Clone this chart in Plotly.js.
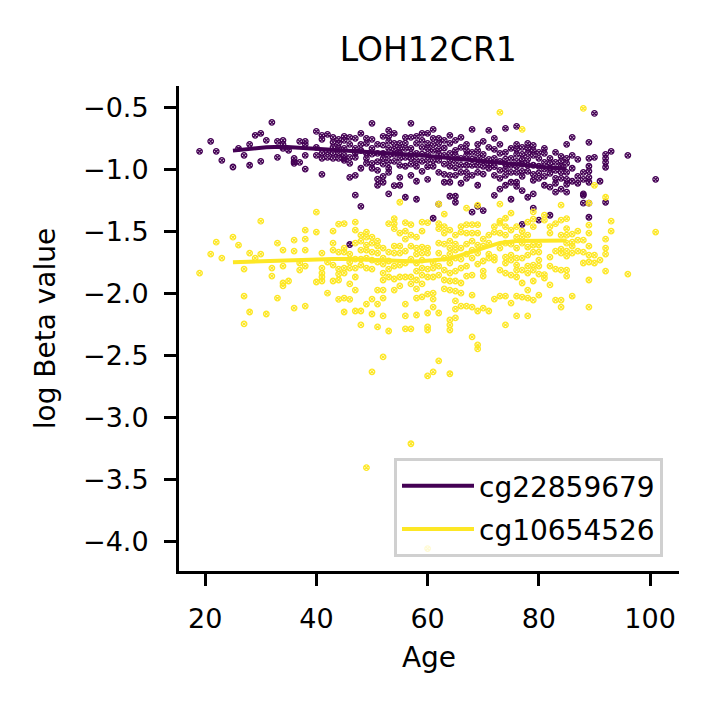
<!DOCTYPE html>
<html>
<head>
<meta charset="utf-8">
<script src="https://cdn.plot.ly/plotly-3.0.1.min.js"></script>
<style>
  html, body { margin: 0; padding: 0; background: #fff; }
  #chart { width: 708px; height: 708px; }
</style>
</head>
<body>
<div id="chart"></div>
<script>
// cg22859679 (purple): ages and the values seen at each age
var purpleAges = [19, 21, 22, 23, 25, 26, 27, 28, 29, 30, 31, 32, 33, 34, 35, 36, 37, 38, 40, 41,
    42, 43, 44, 45, 46, 47, 48, 49, 50, 51, 52, 53, 54, 55, 56, 57, 58, 59, 60, 61,
    62, 63, 64, 65, 66, 67, 68, 69, 70, 71, 72, 73, 74, 75, 76, 77, 78, 79, 80, 81,
    82, 83, 84, 85, 86, 87, 88, 89, 90, 91, 92, 93, 96, 101];
var purpleVals = [
    [-0.857], [-0.776], [-0.857], [-0.929], [-0.983], [-0.833], [-0.889], [-0.80, -0.969], [-0.728],
    [-0.712, -0.937], [-0.768], [-0.623], [-0.776, -0.905], [-0.768, -0.80, -0.833], [-0.849],
    [-0.913, -0.94, -0.953], [-0.776, -0.945], [-0.776, -0.80, -0.889, -1.0],
    [-0.696, -0.824, -0.889], [-0.728, -0.76, -0.873, -0.913, -1.042], [-0.72, -0.86, -0.905],
    [-0.744, -0.784, -0.824, -0.873, -0.913], [-0.76, -0.792, -0.833, -0.873, -0.913],
    [-0.736, -0.768, -0.833, -0.889, -0.913, -0.929], [-0.744, -0.80, -0.905, -0.953, -1.066, -1.608],
    [-0.752, -0.833, -0.87, -0.905, -1.05, -1.21], [-0.712, -0.80, -0.85, -0.993, -1.30],
    [-0.752, -0.792, -0.873, -0.913, -0.953], [-0.631, -0.76, -0.833, -0.88, -0.953, -0.993],
    [-0.80, -0.873, -0.94, -1.01, -1.08, -1.13], [-0.736, -0.806, -0.873, -0.913, -0.96, -1.058, -1.106],
    [-0.688, -0.736, -0.776, -0.833, -0.889, -0.94, -0.993, -1.026, -1.2],
    [-0.712, -0.792, -0.84, -0.881, -0.937, -1.133], [-0.792, -0.833, -0.87, -0.913, -0.97, -1.066, -1.13],
    [-0.744, -0.79, -0.833, -0.905, -0.977, -1.227], [-0.631, -0.744, -0.833, -0.88, -0.913, -0.96, -1.05],
    [-0.736, -0.792, -0.873, -0.93, -0.977, -1.098, -1.243], [-0.712, -0.768, -0.824, -0.88, -0.937, -1.018],
    [-0.712, -0.792, -0.833, -0.881, -0.929, -0.98, -1.082], [-0.68, -0.752, -0.80, -0.849, -0.929, -0.977, -1.396],
    [-0.752, -0.792, -0.841, -0.88, -0.929, -1.026, -1.283], [-0.768, -0.83, -0.889, -0.96, -1.042, -1.106],
    [-0.728, -0.792, -0.873, -0.929, -0.977, -1.05, -1.106, -1.219],
    [-0.768, -0.849, -0.89, -0.937, -0.99, -1.05, -1.219, -1.267], [-0.744, -0.824, -0.913, -0.97, -1.026, -1.114],
    [-0.80, -0.85, -0.889, -0.969, -1.026, -1.074], [-0.68, -0.865, -0.92, -0.97, -1.05, -1.347],
    [-0.80, -0.849, -0.897, -0.969, -1.026, -1.13, -1.30], [-0.776, -0.881, -0.93, -0.977, -1.04, -1.334],
    [-0.688, -0.824, -0.921, -0.96, -0.993], [-0.752, -0.841, -0.913, -0.98, -1.05, -1.211],
    [-0.80, -0.873, -0.937, -1.01, -1.074, -1.162], [-0.672, -0.865, -0.92, -0.961, -1.0, -1.05, -1.13],
    [-0.833, -0.913, -0.97, -1.026, -1.106, -1.243],
    [-0.656, -0.80, -0.841, -0.881, -0.937, -0.977, -1.026, -1.106, -1.138],
    [-0.824, -0.881, -0.921, -0.961, -1.018, -1.058, -1.173, -1.445],
    [-0.792, -0.833, -0.873, -0.921, -0.969, -1.018, -1.227],
    [-0.808, -0.849, -0.889, -0.969, -1.042, -1.09, -1.2, -1.315], [-0.865, -0.913, -0.977, -1.03, -1.074, -1.412],
    [-0.833, -0.873, -0.945, -1.0, -1.058, -1.13], [-0.913, -0.953, -0.993, -1.034, -1.146, -1.372],
    [-0.865, -0.945, -1.01, -1.074, -1.114, -1.186], [-0.897, -0.937, -0.977, -1.026, -1.074, -1.162],
    [-0.80, -0.913, -0.953, -1.026, -1.082, -1.122, -1.186], [-0.744, -0.889, -0.993, -1.098],
    [-0.921, -1.058, -1.114], [-1.026, -1.082, -1.2, -1.211, -1.275],
    [-0.784, -0.913, -0.977, -1.018, -1.066, -1.106, -1.275, -1.388], [-0.551, -0.905], [-1.098],
    [-0.881, -0.913, -0.945, -0.985, -1.267], [-0.857], [-0.889], [-1.082]
];

// cg10654526 (yellow)
var yellowAges = [19, 21, 22, 23, 25, 26, 27, 28, 29, 30, 31, 32, 33, 34, 35, 36, 37, 38, 40, 41,
    42, 43, 44, 45, 46, 47, 48, 49, 50, 51, 52, 53, 54, 55, 56, 57, 58, 59, 60, 61,
    62, 63, 64, 65, 66, 67, 68, 69, 70, 71, 72, 73, 74, 75, 76, 77, 78, 79, 80, 81,
    82, 83, 84, 85, 86, 87, 88, 89, 90, 91, 92, 93, 96, 101];
var yellowVals = [
    [-1.838], [-1.685], [-1.589], [-1.717], [-1.549], [-1.613], [-1.806, -2.024, -2.248], [-1.677, -2.152],
    [-1.717], [-1.42, -1.685], [-2.168], [-1.798, -1.862], [-1.597, -2.04], [-1.653, -1.782, -1.918, -1.942],
    [-1.902], [-1.573, -1.661, -2.12], [-1.757, -1.814], [-1.492, -1.565, -1.653, -1.782, -2.104],
    [-1.347, -1.508, -1.91], [-1.677, -1.798, -1.838, -1.87, -1.902], [-1.749, -2.0],
    [-1.50, -1.597, -1.653, -1.774, -1.902], [-1.444, -1.669, -1.806, -1.846, -1.894, -2.05],
    [-1.44, -1.637, -1.669, -1.798, -1.838, -2.04, -2.152], [-1.685, -1.75, -1.798, -1.926, -2.05],
    [-1.428, -1.492, -1.597, -1.725, -1.798, -1.87, -1.975, -2.144],
    [-1.533, -1.581, -1.653, -1.725, -1.774, -2.144, -2.256],
    [-1.508, -1.549, -1.613, -1.653, -1.717, -1.798, -2.088, -3.407],
    [-1.549, -1.597, -1.669, -1.733, -1.806, -2.048, -2.168, -2.634],
    [-1.581, -1.621, -1.677, -1.749, -1.975, -2.088, -2.272],
    [-1.637, -1.717, -1.766, -1.838, -1.894, -1.975, -2.04, -2.184, -2.514],
    [-1.44, -1.669, -1.741, -1.806, -1.87, -2.305],
    [-1.40, -1.44, -1.48, -1.621, -1.677, -1.782, -1.886, -1.975],
    [-1.267, -1.516, -1.621, -1.677, -1.774, -1.87, -1.942],
    [-1.432, -1.50, -1.565, -1.661, -1.757, -1.87, -2.088, -2.184, -2.288],
    [-1.448, -1.533, -1.621, -1.725, -1.87, -1.926, -2.288, -3.214],
    [-1.549, -1.637, -1.685, -1.757, -1.822, -1.894, -1.966, -2.04, -2.176],
    [-1.428, -1.50, -1.629, -1.677, -1.733, -1.798, -1.854, -1.926, -2.03],
    [-1.432, -1.637, -1.677, -1.806, -1.87, -2.008, -2.16, -2.272, -2.297, -2.667, -4.059],
    [-1.757, -1.798, -1.87, -2.0, -2.048, -2.112, -2.634],
    [-1.283, -1.44, -1.48, -1.597, -1.677, -1.782, -1.854, -2.16, -2.546],
    [-1.363, -1.464, -1.516, -1.605, -1.717, -1.814, -1.894, -1.966],
    [-1.492, -1.581, -1.637, -1.685, -1.757, -1.838, -1.902, -1.975, -2.216, -2.256, -2.297, -2.65],
    [-1.533, -1.605, -1.653, -1.717, -1.822, -1.902, -1.983, -2.063, -2.128, -2.20],
    [-1.464, -1.508, -1.637, -1.725, -1.798, -1.918, -2.0, -2.104],
    [-1.315, -1.448, -1.516, -1.605, -1.685, -1.782, -1.862, -2.104],
    [-1.448, -1.516, -1.581, -1.653, -1.717, -1.854, -2.016, -2.112, -2.353],
    [-1.291, -1.448, -1.516, -1.613, -1.677, -1.766, -2.144, -2.417, -2.45],
    [-1.565, -1.621, -1.741, -1.822, -1.862, -2.12], [-1.533, -1.597, -1.685, -1.717, -2.144],
    [-1.464, -1.508, -1.709, -1.733, -2.048],
    [-0.543, -1.283, -1.42, -1.436, -1.516, -1.637, -1.814, -2.024],
    [-1.396, -1.464, -1.533, -1.597, -1.709, -1.757, -1.838, -2.024, -2.256],
    [-1.355, -1.492, -1.605, -1.693, -1.733, -1.854, -2.08],
    [-1.464, -1.549, -1.637, -1.717, -1.774, -1.814, -1.87, -2.024, -2.184],
    [-0.68, -1.50, -1.549, -1.597, -1.717, -1.814, -1.918, -2.032],
    [-1.428, -1.533, -1.629, -1.693, -1.782, -1.838, -1.975, -2.04, -2.184],
    [-1.345, -1.404, -1.464, -1.613, -1.669, -1.774, -1.814, -1.902, -2.056],
    [-1.613, -1.669, -1.733, -1.782, -1.846, -2.016], [-1.371, -1.412, -1.85, -1.878],
    [-1.464, -1.516, -1.709, -1.782, -1.934], [-1.44, -1.661, -1.806, -2.056],
    [-1.291, -1.412, -1.533, -1.645, -1.677, -1.814, -2.056, -2.112],
    [-1.40, -1.48, -1.533, -1.597, -1.661, -1.701, -1.814, -1.862],
    [-1.524, -1.589, -1.621, -1.677, -2.024], [-1.50, -1.573, -1.661], [-0.511, -1.573, -1.669, -1.757],
    [-1.275, -1.452, -1.516, -1.621, -1.693, -1.749, -1.894, -2.112], [-1.131, -1.693, -1.757], [-1.733],
    [-1.227, -1.565, -1.637, -1.685, -1.822], [-1.42, -1.50], [-1.846], [-1.508]
];

// smoothed trend lines
var trendAges = [25, 28, 31, 34, 37, 40, 43, 46, 49, 52, 55, 58, 61, 64, 67, 70, 73, 76, 79, 82, 85];
var trendPurple = [-0.851, -0.835, -0.824, -0.82, -0.828, -0.835, -0.842, -0.848, -0.855, -0.864, -0.874,
    -0.886, -0.898, -0.912, -0.926, -0.94, -0.953, -0.965, -0.977, -0.988, -0.995];
var trendYellow = [-1.75, -1.745, -1.738, -1.732, -1.728, -1.726, -1.725, -1.725, -1.73, -1.737, -1.745,
    -1.744, -1.735, -1.722, -1.68, -1.635, -1.595, -1.58, -1.578, -1.577, -1.576];

var PURPLE = '#440154', YELLOW = '#fde725';
var FONT = 'DejaVu Sans, sans-serif';

function flatten(ages, vals) {
    var x = [], y = [];
    for (var i = 0; i < ages.length; i++) {
        for (var j = 0; j < vals[i].length; j++) {
            x.push(ages[i]);
            y.push(vals[i][j]);
        }
    }
    return { x: x, y: y };
}

function pointsTrace(d, color) {
    return {
        x: d.x, y: d.y, type: 'scatter', mode: 'markers', showlegend: false, hoverinfo: 'skip',
        marker: { symbol: 'circle-x-open', size: 5.5, color: color, line: { color: color, width: 1.3 } }
    };
}

function lineTrace(ys, color, name) {
    return {
        x: trendAges, y: ys, type: 'scatter', mode: 'lines', name: name, legendgroup: name,
        line: { color: color, width: 4 }
    };
}

var p = flatten(purpleAges, purpleVals);
var q = flatten(yellowAges, yellowVals);

var traces = [
    pointsTrace(p, PURPLE),
    lineTrace(trendPurple, PURPLE, 'cg22859679'),
    pointsTrace(q, YELLOW),
    lineTrace(trendYellow, YELLOW, 'cg10654526')
];

var axisCommon = {
    showline: true, linecolor: '#000', linewidth: 3, mirror: false,
    showgrid: false, zeroline: false,
    ticks: 'outside', ticklen: 12, tickwidth: 3, tickcolor: '#000',
    tickfont: { family: FONT, size: 27, color: '#000' }
};

var layout = {
    width: 708, height: 708,
    paper_bgcolor: '#fff', plot_bgcolor: '#fff',
    font: { family: FONT, color: '#000' },
    margin: { l: 179, r: 29, t: 86, b: 137 },
    title: { text: 'LOH12CR1', font: { family: FONT, size: 33, color: '#000' },
             x: 0.605, xanchor: 'center', y: 0.93, yanchor: 'middle' },
    xaxis: Object.assign({}, axisCommon, {
        range: [15.3, 105.2], tickvals: [20, 40, 60, 80, 100], ticklabelstandoff: 10,
        title: { text: 'Age', font: { family: FONT, size: 28, color: '#000' }, standoff: 14 }
    }),
    yaxis: Object.assign({}, axisCommon, {
        range: [-4.24, -0.33], tickvals: [-4, -3.5, -3, -2.5, -2, -1.5, -1, -0.5], tickformat: '.1f',
        ticklabelstandoff: 10,
        title: { text: 'log Beta value', font: { family: FONT, size: 28, color: '#000' }, standoff: 20 }
    }),
    legend: {
        x: 0.968, y: 0.029, xanchor: 'right', yanchor: 'bottom',
        bgcolor: 'rgba(255,255,255,0.8)', bordercolor: '#d0d0d0', borderwidth: 3,
        font: { family: FONT, size: 28, color: '#000' },
        traceorder: 'grouped', tracegroupgap: 4, itemwidth: 72
    },
    showlegend: true
};

Plotly.newPlot('chart', traces, layout, { displayModeBar: false, staticPlot: true });
</script>
</body>
</html>
